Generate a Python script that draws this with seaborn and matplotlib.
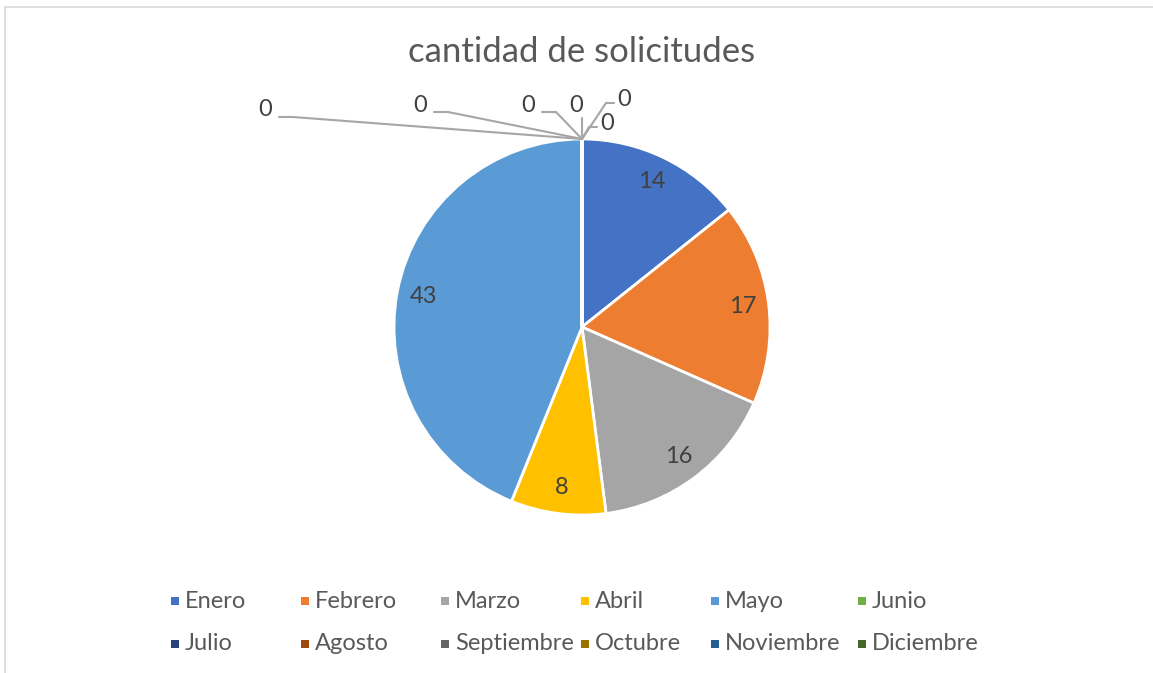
import matplotlib
matplotlib.use("Agg")
import numpy as np
import matplotlib.pyplot as plt
import seaborn as sns
from matplotlib.patches import Rectangle

meses = ['Enero', 'Febrero', 'Marzo', 'Abril', 'Mayo', 'Junio',
         'Julio', 'Agosto', 'Septiembre', 'Octubre', 'Noviembre', 'Diciembre']
solicitudes = [14, 17, 16, 8, 43, 0, 0, 0, 0, 0, 0, 0]
colores = ['#4472C4', '#ED7D31', '#A5A5A5', '#FFC000', '#5B9BD5', '#70AD47',
           '#264478', '#9E480E', '#636363', '#997300', '#255E91', '#43682B']

sns.set_theme(style='white')
plt.rcParams['font.family'] = ['Lato', 'DejaVu Sans']

W, H = 1153, 673
fig = plt.figure(figsize=(W / 100, H / 100), dpi=100)

# borde del area del grafico
fig.patches.append(Rectangle((5 / W, -0.05), 1.2, 1 - 7.5 / H + 0.05,
                             transform=fig.transFigure, fill=False,
                             edgecolor='#D9D9D9', linewidth=1.2))

cx, cy, r = 582, 327, 188
ax = fig.add_axes([(cx - r) / W, (H - cy - r) / H, 2 * r / W, 2 * r / H])

paleta = sns.color_palette(colores)
wedges, _ = ax.pie(solicitudes, colors=paleta, startangle=90, counterclock=False,
                   wedgeprops=dict(edgecolor='white', linewidth=2))
ax.set_xlim(-1, 1)
ax.set_ylim(-1, 1)
ax.set_aspect('auto')
ax.axis('off')

# etiquetas dentro de los sectores
for w, v in zip(wedges, solicitudes):
    if v == 0:
        continue
    ang = np.deg2rad((w.theta1 + w.theta2) / 2)
    ax.text(0.86 * np.cos(ang), 0.86 * np.sin(ang), str(v), ha='center', va='center',
            fontsize=17, color='#404040')

# etiquetas de los ceros con lineas guia (posiciones en pixeles)
pos_ceros = [(265, 110, 'l'), (420, 105, 'l'), (528, 105, 'l'), (576, 105, 'd'),
             (624, 100, 'r'), (607, 124, 'r')]
ceros = [m for m, v in zip(meses, solicitudes) if v == 0]
for (px, py, lado), m in zip(pos_ceros, ceros):
    tx, ty = (px - cx) / r, (cy - py) / r
    ax.text(tx, ty, '0', ha='center', va='center', fontsize=17, color='#404040',
            clip_on=False)
    if lado == 'l':
        xs = [tx + 14 / r, tx + 28 / r, 0]
        ys = [ty - 7 / r, ty - 7 / r, 1]
    elif lado == 'r':
        xs = [tx - 10 / r, tx - 18 / r, 0]
        ys = [ty - 3 / r, ty - 3 / r, 1]
    else:
        xs = [tx + 6 / r, tx + 6 / r]
        ys = [ty - 13 / r, 1]
    ax.plot(xs, ys, color='#A6A6A6', linewidth=1.5, clip_on=False)

fig.text(cx / W, 1 - 52 / H, 'cantidad de solicitudes', ha='center', va='center',
         fontsize=25, color='#595959')

# leyenda: 6 columnas, llenado por filas
cols_x, filas_y = [175, 305, 445, 585, 715, 862], [601, 644]
for k, (mes, c) in enumerate(zip(meses, colores)):
    x, y = cols_x[k % 6], filas_y[k // 6]
    fig.patches.append(Rectangle(((x - 4) / W, 1 - (y + 4) / H), 8 / W, 8 / H,
                                 transform=fig.transFigure, facecolor=c,
                                 edgecolor='none'))
    fig.text((x + 10) / W, 1 - y / H, mes, ha='left', va='center',
             fontsize=17, color='#595959')

fig.savefig('out.png', dpi=100, facecolor='white')
